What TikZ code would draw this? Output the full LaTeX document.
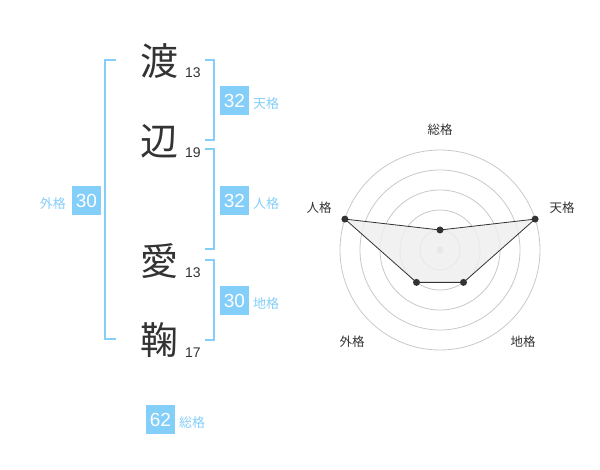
\documentclass[tikz,border=0pt]{standalone}
\usepackage{fontspec}
\setmainfont{Liberation Sans}
\newfontfamily\jp{Noto Sans CJK JP}
\definecolor{sky}{HTML}{84CEFA}
\definecolor{ink}{HTML}{333333}
\definecolor{ring}{HTML}{C8C8C8}
\definecolor{area}{HTML}{EEEEEE}
\begin{document}
\begin{tikzpicture}[x=1pt,y=-1pt,
  kanji/.style={inner sep=0pt,text=ink,font=\jp\fontsize{38}{38}\selectfont},
  stroke/.style={inner sep=0pt,anchor=base west,text=ink,font=\fontsize{14}{14}\selectfont},
  valbox/.style={fill=sky,text=white,minimum size=29pt,inner sep=0pt,font=\fontsize{19}{19}\selectfont},
  kaku/.style={inner sep=0pt,text=sky,font=\jp\fontsize{13}{13}\selectfont},
  rlabel/.style={inner sep=0pt,text=ink,font=\jp\fontsize{12.5}{12.5}\selectfont},
  brk/.style={draw=sky,line width=2pt},
  dot/.style={circle,fill=ink,inner sep=0pt,minimum size=7pt}]
\useasboundingbox (0,0) rectangle (600,470);
% characters
\node[kanji] (k1) at (159,61) {渡};
\node[kanji] (k2) at (159,141) {辺};
\node[kanji] (k3) at (159,261) {愛};
\node[kanji] (k4) at (159,340) {鞠};
\node[stroke] (s1) at (185,78) {13};
\node[stroke] (s2) at (185,158) {19};
\node[stroke] (s3) at (185,278) {13};
\node[stroke] (s4) at (185,358) {17};
% brackets
\draw[brk] (116,60) -- (105,60) -- (105,339) -- (116,339);
\draw[brk] (205,60) -- (214,60) -- (214,140) -- (205,140);
\draw[brk] (205,149) -- (214,149) -- (214,249) -- (205,249);
\draw[brk] (205,260) -- (214,260) -- (214,340) -- (205,340);
% values
\node[valbox] (ten) at (234.5,100.5) {32};
\node[kaku,anchor=west] (tenl) at (253,104) {天格};
\node[valbox] (jin) at (234.5,200.5) {32};
\node[kaku,anchor=west] (jinl) at (253,204) {人格};
\node[valbox] (chi) at (234.5,300.5) {30};
\node[kaku,anchor=west] (chil) at (253,304) {地格};
\node[valbox] (gai) at (86.5,200.5) {30};
\node[kaku,anchor=east] (gail) at (66,204) {外格};
\node[valbox] (sou) at (160.5,419.5) {62};
\node[kaku,anchor=west] (soul) at (179,423) {総格};
% radar
\foreach \r in {20,40,60,80,100} \draw[ring,line width=0.8pt] (440,250) circle (\r);
\node[circle,fill=ring,inner sep=0pt,minimum size=7pt] (c) at (440,250) {};
\coordinate (pS) at (440,230);
\coordinate (pT) at (535.1,219.1);
\coordinate (pC) at (463.5,282.4);
\coordinate (pG) at (416.5,282.4);
\coordinate (pJ) at (344.9,219.1);
\filldraw[fill=area,fill opacity=0.85,draw=ink,line width=0.8pt] (pS) -- (pT) -- (pC) -- (pG) -- (pJ) -- cycle;
\foreach \p in {pS,pT,pC,pG,pJ} \node[dot] at (\p) {};
\node[rlabel] (lS) at (440,130) {総格};
\node[rlabel] (lT) at (562,208) {天格};
\node[rlabel] (lJ) at (319,208) {人格};
\node[rlabel] (lG) at (352,342) {外格};
\node[rlabel] (lC) at (523,342) {地格};
\end{tikzpicture}
\end{document}
